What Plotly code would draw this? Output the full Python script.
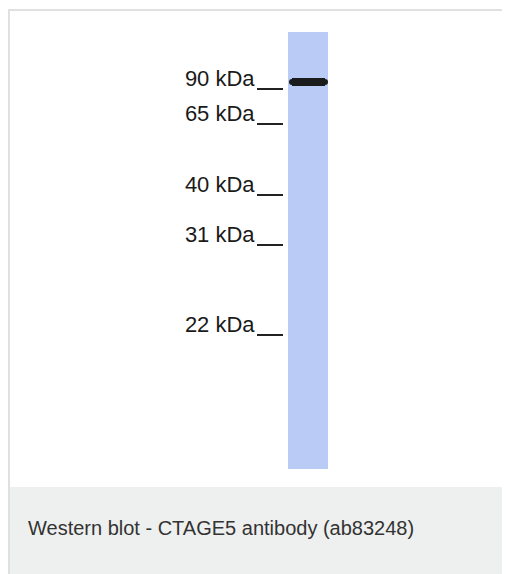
import plotly.graph_objects as go

# Western blot: one lane, molecular weight ladder on the left
marker_labels = ["90 kDa", "65 kDa", "40 kDa", "31 kDa", "22 kDa"]
marker_migration = [89, 124, 195, 245, 335]   # px from top of image
lane_start, lane_end = 32, 469                # lane extent (px)
band_migration = [82]                         # detected band
caption = "Western blot - CTAGE5 antibody (ab83248)"

W, H = 510, 574
OFF = 8  # page body margin; axes are set so data units equal screen pixels
lane_x = 308
lane_w = 40

fig = go.Figure()

# Lane
fig.add_trace(go.Bar(
    x=[lane_x], y=[lane_end - lane_start], base=[lane_start],
    width=lane_w, marker=dict(color="#bacbf5", line_width=0),
    hoverinfo="skip", showlegend=False,
))

# Band
for b in band_migration:
    fig.add_trace(go.Scatter(
        x=[lane_x - 16, lane_x + 17], y=[b, b],
        mode="lines+markers",
        line=dict(color="#1a1d1b", width=8),
        marker=dict(color="#1a1d1b", size=6),
        hoverinfo="skip", showlegend=False,
    ))

# Frame and caption panel
fig.add_shape(type="rect", x0=10, x1=W + OFF, y0=487, y1=H + OFF, xref="x", yref="y",
              fillcolor="#eef0ef", line_width=0, layer="below")
fig.add_shape(type="line", x0=9, x1=9, y0=9, y1=H + OFF, xref="x", yref="y",
              line=dict(color="#e0e0e0", width=2))
fig.add_shape(type="line", x0=8, x1=W + OFF, y0=10, y1=10, xref="x", yref="y",
              line=dict(color="#e0e0e0", width=2))

fig.add_annotation(
    x=26, y=528, xref="x", yref="y", text=caption, showarrow=False,
    xanchor="left", yanchor="middle",
    font=dict(family="Liberation Sans, Arial, sans-serif", size=20, color="#333333"),
)

fig.update_layout(
    width=W, height=H,
    margin=dict(l=0, r=0, t=0, b=0),
    plot_bgcolor="white", paper_bgcolor="white",
    xaxis=dict(range=[OFF, W + OFF], visible=False, fixedrange=True),
    yaxis=dict(
        range=[H + OFF, OFF], anchor="free",
        position=(lane_x - lane_w / 2 - 5 - OFF) / W,
        tickvals=marker_migration, ticktext=marker_labels,
        ticks="outside", ticklen=26, tickwidth=1.5, tickcolor="#222222",
        ticklabelshift=11, ticklabelstandoff=-2,
        showline=False, showgrid=False, zeroline=False,
        tickfont=dict(family="Liberation Sans, Arial, sans-serif", size=22, color="#1a1a1a"),
    ),
    bargap=0,
)

fig.write_html("out.html")
